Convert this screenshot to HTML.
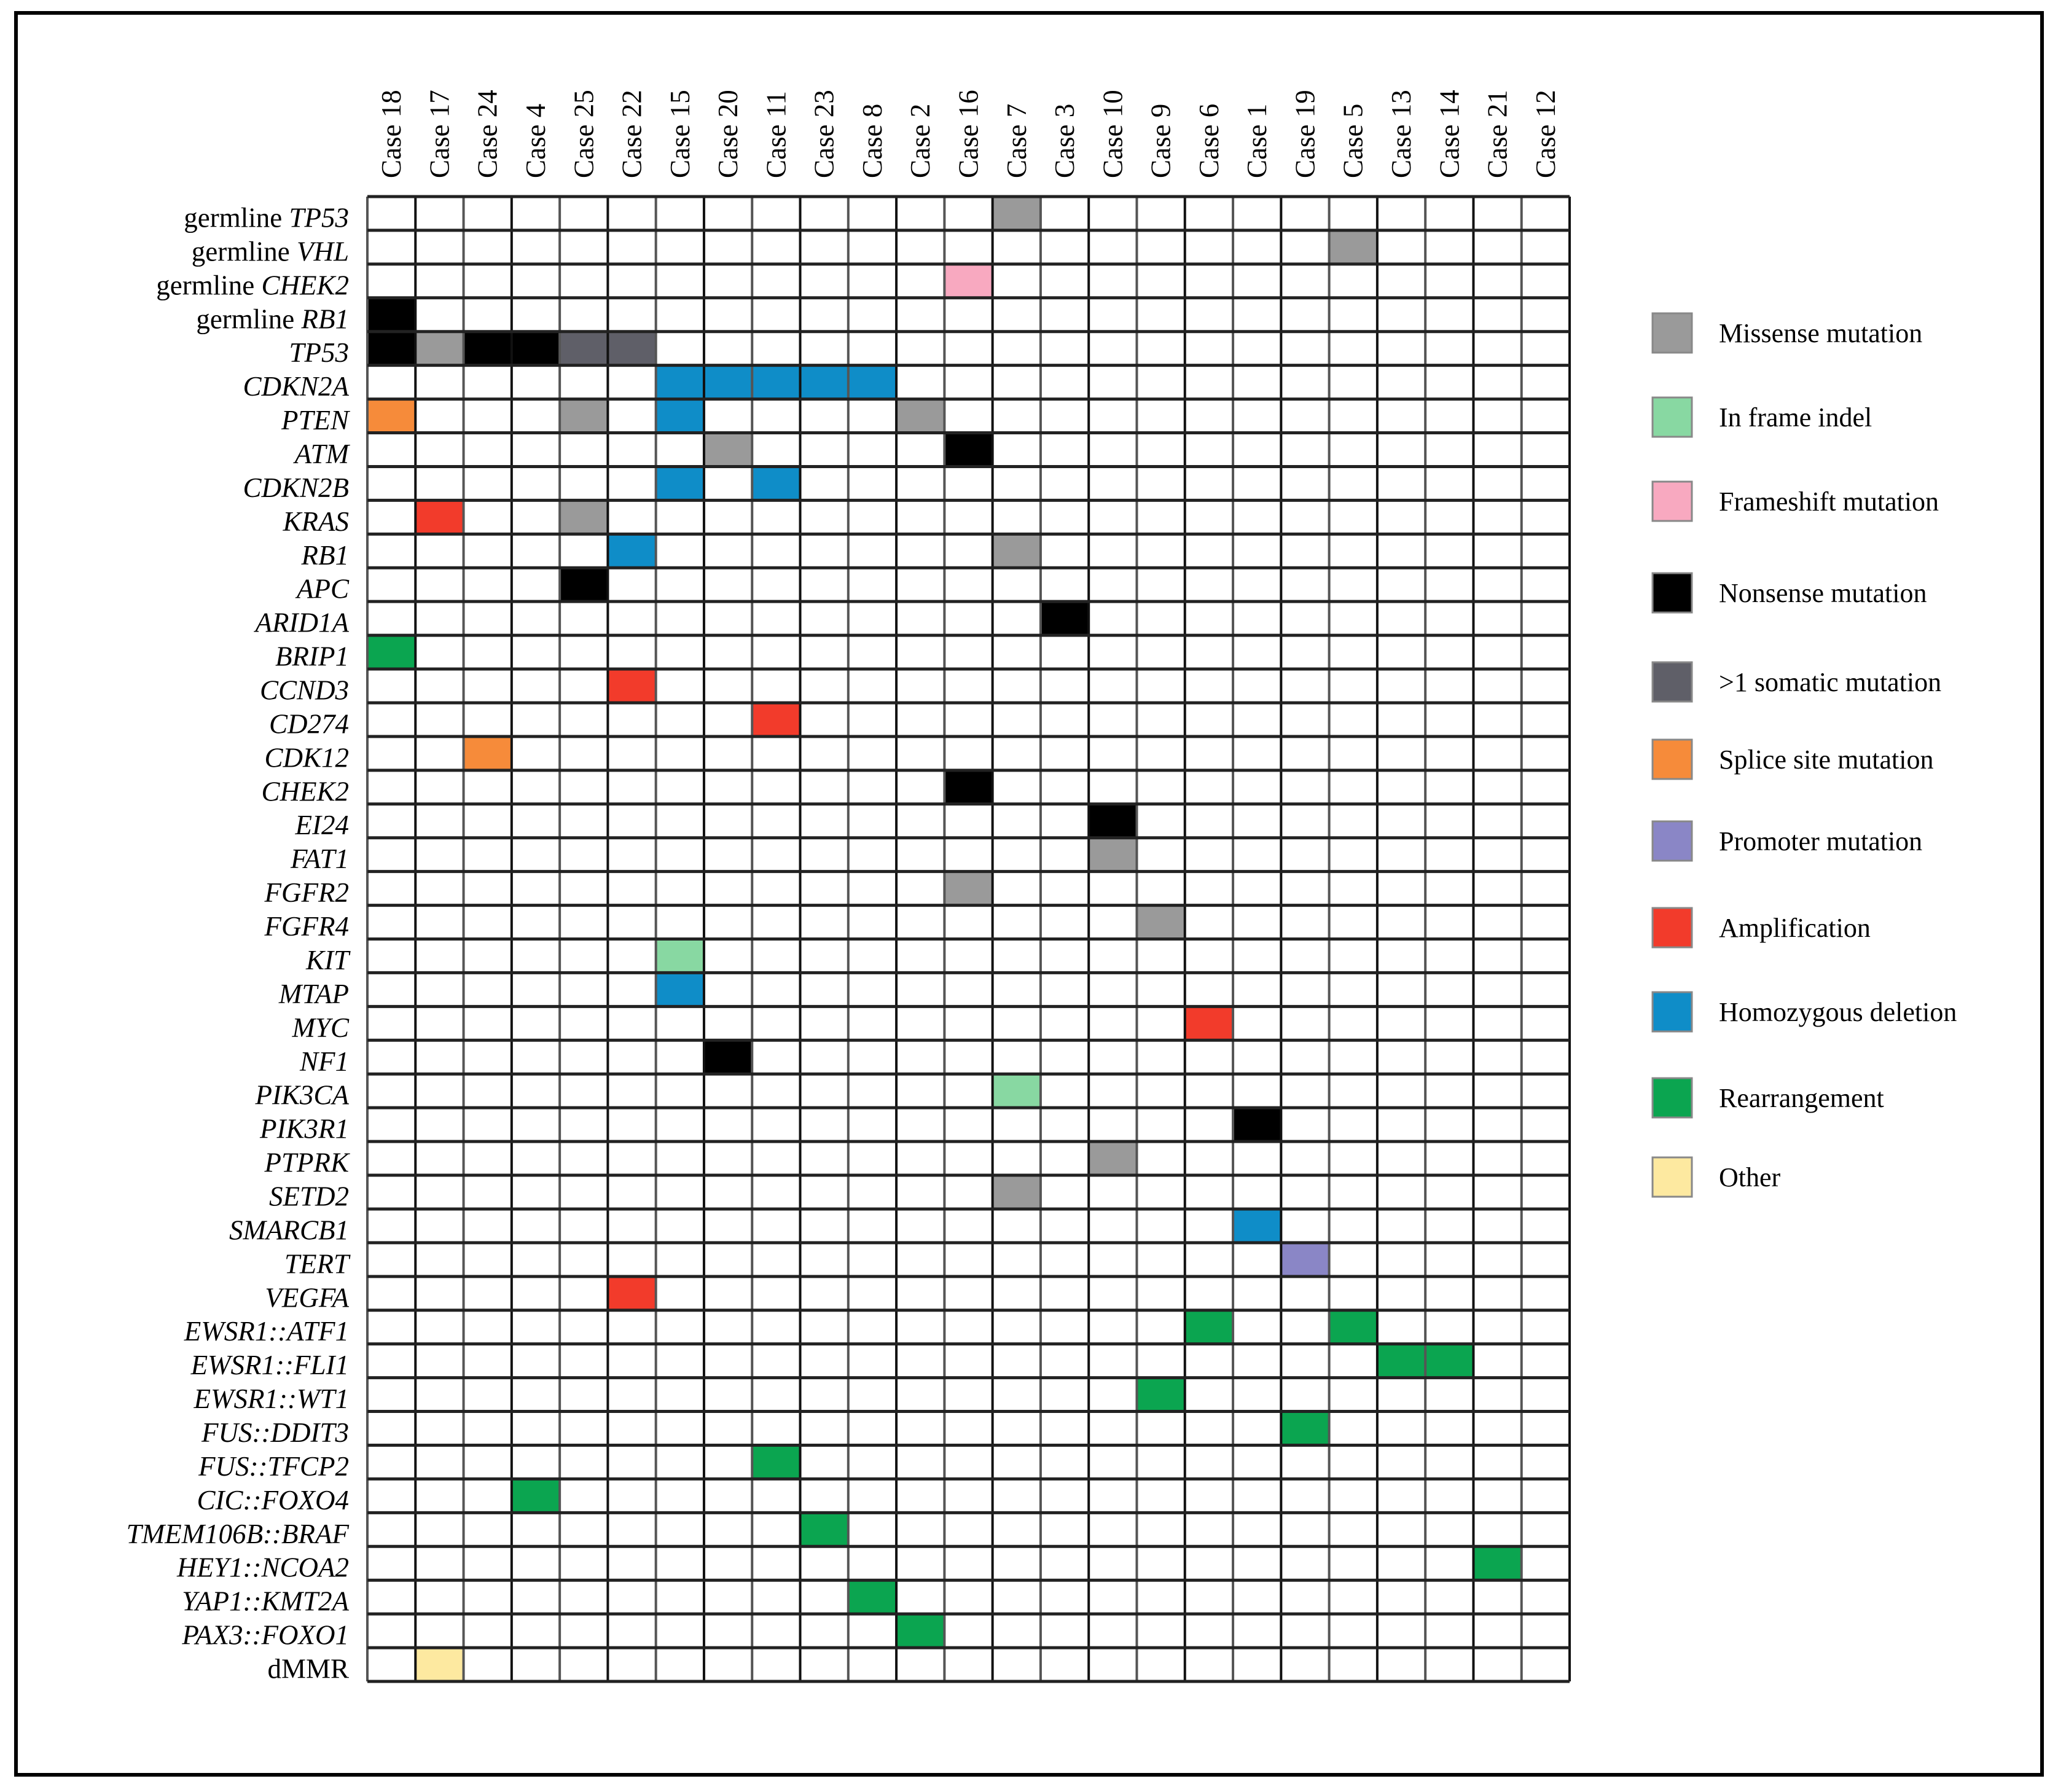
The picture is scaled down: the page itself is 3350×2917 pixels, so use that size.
<!DOCTYPE html>
<html><head><meta charset="utf-8"><style>
html,body{margin:0;padding:0;background:#fff;}
svg{display:block;font-family:"Liberation Serif",serif;}
</style></head><body>
<svg id="chart" width="3350" height="2917" viewBox="0 0 3350 2917" xmlns="http://www.w3.org/2000/svg">
<rect x="26" y="21" width="3298" height="2868" fill="#fff" stroke="#000" stroke-width="6"/>
<g id="cells"></g><g id="grid"></g><g id="collabels"></g><g id="rowlabels"></g><g id="legend"></g>
</svg>
<script>
const cases = ["Case 18","Case 17","Case 24","Case 4","Case 25","Case 22","Case 15","Case 20","Case 11","Case 23","Case 8","Case 2","Case 16","Case 7","Case 3","Case 10","Case 9","Case 6","Case 1","Case 19","Case 5","Case 13","Case 14","Case 21","Case 12"];
const genes = [["germline ","TP53"],["germline ","VHL"],["germline ","CHEK2"],["germline ","RB1"],["","TP53"],["","CDKN2A"],["","PTEN"],["","ATM"],["","CDKN2B"],["","KRAS"],["","RB1"],["","APC"],["","ARID1A"],["","BRIP1"],["","CCND3"],["","CD274"],["","CDK12"],["","CHEK2"],["","EI24"],["","FAT1"],["","FGFR2"],["","FGFR4"],["","KIT"],["","MTAP"],["","MYC"],["","NF1"],["","PIK3CA"],["","PIK3R1"],["","PTPRK"],["","SETD2"],["","SMARCB1"],["","TERT"],["","VEGFA"],["","EWSR1::ATF1"],["","EWSR1::FLI1"],["","EWSR1::WT1"],["","FUS::DDIT3"],["","FUS::TFCP2"],["","CIC::FOXO4"],["","TMEM106B::BRAF"],["","HEY1::NCOA2"],["","YAP1::KMT2A"],["","PAX3::FOXO1"],["dMMR",""]];
const alterationTypes = ["Missense mutation","In frame indel","Frameshift mutation","Nonsense mutation",">1 somatic mutation","Splice site mutation","Promoter mutation","Amplification","Homozygous deletion","Rearrangement","Other"];
const typeColors = ["#9a9a9a","#88d8a2","#f8a9c0","#000000","#5f5f68","#f68b3a","#8a86c6","#f23b2b","#0f8dc8","#0ba550","#fde9a0"];
// [row, col, typeIndex]
const alterations = [
[0,13,0],[1,20,0],[2,12,2],[3,0,3],
[4,0,3],[4,1,0],[4,2,3],[4,3,3],[4,4,4],[4,5,4],
[5,6,8],[5,7,8],[5,8,8],[5,9,8],[5,10,8],
[6,0,5],[6,4,0],[6,6,8],[6,11,0],
[7,7,0],[7,12,3],[8,6,8],[8,8,8],[9,1,7],[9,4,0],[10,5,8],[10,13,0],
[11,4,3],[12,14,3],[13,0,9],[14,5,7],[15,8,7],[16,2,5],[17,12,3],[18,15,3],[19,15,0],
[20,12,0],[21,16,0],[22,6,1],[23,6,8],[24,17,7],[25,7,3],[26,13,1],[27,18,3],[28,15,0],
[29,13,0],[30,18,8],[31,19,6],[32,5,7],[33,17,9],[33,20,9],[34,21,9],[34,22,9],[35,16,9],
[36,19,9],[37,8,9],[38,3,9],[39,9,9],[40,23,9],[41,10,9],[42,11,9],[43,1,10]];
const legendY = [543,680,817,966,1111,1237,1370,1511,1648,1788,1917];

const NS="http://www.w3.org/2000/svg";
const X0=598,X1=2555,Y0=320,Y1=2737;
const cw=(X1-X0)/cases.length, rh=(Y1-Y0)/genes.length;
const xOf=c=>X0+c*cw, yOf=r=>Y0+r*rh;
function mk(tag,attrs,parent){const e=document.createElementNS(NS,tag);for(const k in attrs)e.setAttribute(k,attrs[k]);parent.appendChild(e);return e;}
const gCells=document.getElementById('cells'),gGrid=document.getElementById('grid'),gCol=document.getElementById('collabels'),gRow=document.getElementById('rowlabels'),gLeg=document.getElementById('legend');
alterations.forEach(a=>{
  const r=mk('rect',{x:xOf(a[1]),y:yOf(a[0]),width:cw,height:rh,fill:typeColors[a[2]]},gCells);
  
  
});
for(let i=0;i<=cases.length;i++){
  const l=mk('line',{x1:xOf(i),x2:xOf(i),y1:Y0,y2:Y1,stroke:i%2?'#111':'#555','stroke-width':4},gGrid);
  
  
}
for(let j=0;j<=genes.length;j++){
  const l=mk('line',{x1:X0,x2:X1,y1:yOf(j),y2:yOf(j),stroke:'#222','stroke-width':5},gGrid);
  
  
}
cases.forEach((c,i)=>{
  const cx=xOf(i)+cw/2+15, cy=290;
  const t=mk('text',{x:cx,y:cy,transform:`rotate(-90 ${cx} ${cy})`,'font-size':45,fill:'#000'},gCol);
  t.textContent=c;
  
  
});
genes.forEach((g,j)=>{
  const t=mk('text',{x:568,y:yOf(j)+rh/2+22,'text-anchor':'end','font-size':45,fill:'#000'},gRow);
  if(g[0]){const s=mk('tspan',{},t);s.textContent=g[0];}
  if(g[1]){const s=mk('tspan',{'font-style':'italic'},t);s.textContent=g[1];}
  
  
});
alterationTypes.forEach((n,i)=>{
  const y=legendY[i];
  const r=mk('rect',{x:2690,y:y-33,width:64,height:64,fill:typeColors[i],stroke:'#888','stroke-width':3},gLeg);
  
  
  const t=mk('text',{x:2798,y:y+14,'font-size':44,fill:'#000'},gLeg);
  t.textContent=n;
  
  
});
</script>
</body></html>
